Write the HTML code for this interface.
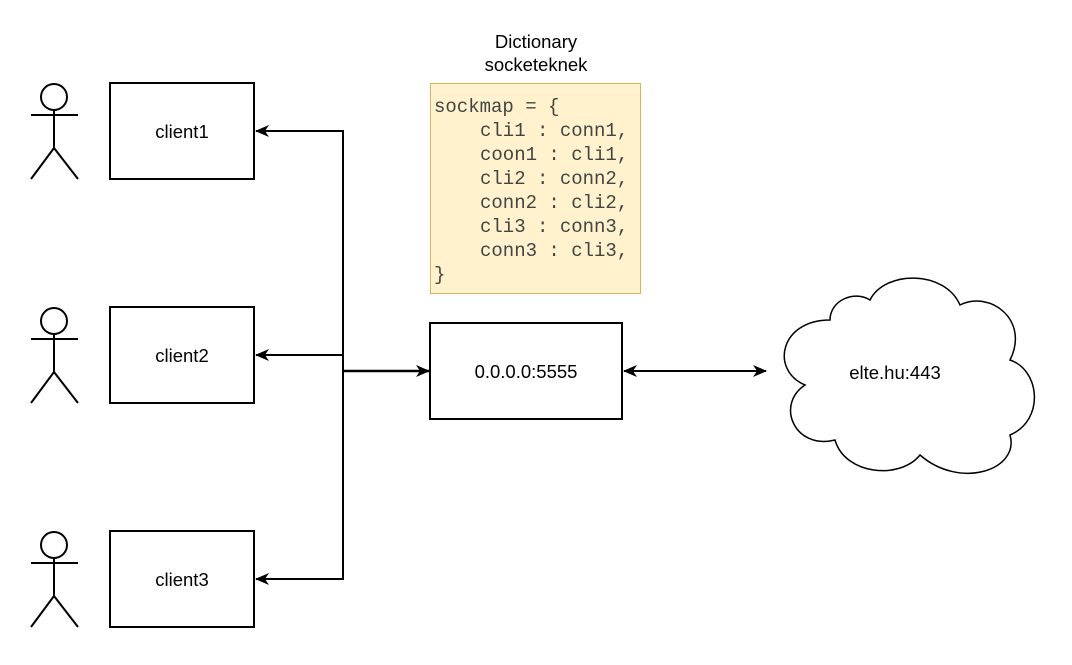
<!DOCTYPE html>
<html><head><style>body{margin:0;background:#fff}</style></head><body>
<svg width="1072" height="660" xmlns="http://www.w3.org/2000/svg" font-family="Liberation Sans, sans-serif">
<defs><marker id="a" markerWidth="14" markerHeight="14" refX="13" refY="7" orient="auto-start-reverse" markerUnits="userSpaceOnUse"><path d="M0,1 L14,7 L0,13 L4,7 Z" fill="#000"/></marker></defs>
<g fill="none" stroke="#000" stroke-width="2">
<g id="act"><circle cx="54" cy="97" r="13"/><line x1="54" y1="110" x2="54" y2="148"/><line x1="31" y1="115" x2="78" y2="115"/><line x1="54" y1="148" x2="31" y2="179"/><line x1="54" y1="148" x2="78" y2="179"/></g>
<use href="#act" y="224"/><use href="#act" y="448"/>
<rect x="110" y="83" width="144" height="96"/>
<rect x="110" y="307" width="144" height="96"/>
<rect x="110" y="531" width="144" height="96"/>
<rect x="430" y="323" width="192" height="96"/>
<line x1="343" y1="130" x2="343" y2="580"/>
<line x1="343" y1="131" x2="256" y2="131" marker-end="url(#a)"/>
<line x1="343" y1="355" x2="256" y2="355" marker-end="url(#a)"/>
<line x1="343" y1="579" x2="256" y2="579" marker-end="url(#a)"/>
<line x1="343" y1="371" x2="429" y2="371" stroke-width="2.5" marker-end="url(#a)"/>
<line x1="624" y1="371" x2="766" y2="371" marker-start="url(#a)" marker-end="url(#a)"/>
<path stroke-width="1.5" d="M830,320 C780,320 770,370 805,385 C775,405 795,450 835,440 C845,475 900,480 920,455 C960,490 1020,470 1010,435 C1045,420 1040,370 1010,360 C1030,320 990,290 960,305 C945,270 885,270 870,300 C855,290 830,300 830,320 Z"/>
</g>
<rect x="430.5" y="83.5" width="210" height="210" fill="#fff2cc" stroke="#d6b656"/>
<g font-family="Liberation Mono, monospace" font-size="19" fill="#444">
<text x="434" y="112">sockmap = {</text>
<text x="480" y="136">cli1 : conn1,</text>
<text x="480" y="160">coon1 : cli1,</text>
<text x="480" y="184">cli2 : conn2,</text>
<text x="480" y="208">conn2 : cli2,</text>
<text x="480" y="232">cli3 : conn3,</text>
<text x="480" y="256">conn3 : cli3,</text>
<text x="434" y="280">}</text>
</g>
<g font-size="18.5" text-anchor="middle" fill="#000">
<text x="536" y="48">Dictionary</text><text x="536" y="71">socketeknek</text>
<text x="182" y="138">client1</text><text x="182" y="362">client2</text><text x="182" y="586">client3</text>
<text x="526" y="378">0.0.0.0:5555</text><text x="895" y="379">elte.hu:443</text>
</g>
</svg>
</body></html>
